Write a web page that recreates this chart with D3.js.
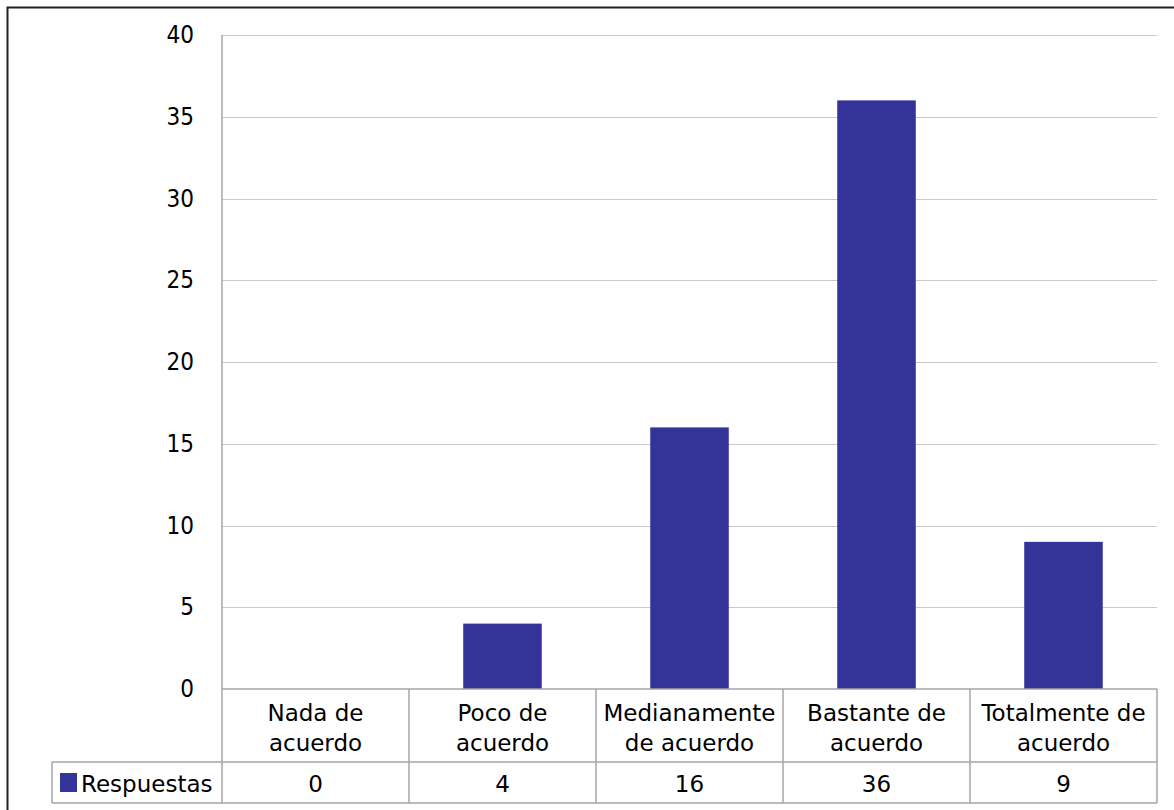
<!DOCTYPE html>
<html><head><meta charset="utf-8">
<script src="https://cdn.jsdelivr.net/npm/d3@7"></script>
<style>body{margin:0;background:#fff;}svg{display:block;}</style>
</head><body>
<svg id="c" width="1174" height="810"></svg>
<script>
const categories = [["Nada de","acuerdo"],["Poco de","acuerdo"],["Medianamente","de acuerdo"],["Bastante de","acuerdo"],["Totalmente de","acuerdo"]];
const values = [0,4,16,36,9];
const seriesName = "Respuestas";
const yTicks = [0,5,10,15,20,25,30,35,40];

const svg = d3.select("#c");
const font = "DejaVu Sans";
const fs = 23;
const L = 222, R = 1157, T = 35, B = 689;
const rowY = 762, bottomY = 803, legendX = 52;
const barColor = "#333399", lineColor = "#a6a6a6", gridColor = "#c8c8c8";

svg.append("rect").attr("x",7.5).attr("y",7.5).attr("width",1200).attr("height",900)
  .attr("fill","none").attr("stroke","#222").attr("stroke-width",2);

const x = d3.scaleBand().domain(d3.range(categories.length)).range([L,R]).paddingInner(0).paddingOuter(0);
const y = d3.scaleLinear().domain([0,40]).range([B,T]);

// gridlines
svg.append("g").selectAll("line").data(yTicks.filter(d=>d>0)).join("line")
  .attr("x1",L).attr("x2",R).attr("y1",d=>Math.round(y(d))+0.5).attr("y2",d=>Math.round(y(d))+0.5)
  .attr("stroke",gridColor).attr("stroke-width",1);

// y axis labels
const yAxis = d3.axisLeft(y).tickValues(yTicks).tickSize(0).tickPadding(0);
const ya = svg.append("g").attr("transform",`translate(${L-28},0)`).call(yAxis);
ya.select(".domain").remove();
ya.selectAll("text").attr("font-family","DejaVu Sans Condensed, DejaVu Sans").attr("font-size",24).attr("fill","#000");

// bars
const bw = x.bandwidth()*0.42;
svg.append("g").selectAll("rect").data(values).join("rect")
  .attr("x",(d,i)=>x(i)+x.bandwidth()/2-bw/2).attr("width",bw)
  .attr("y",d=>y(d)).attr("height",d=>y(0)-y(d)).attr("fill",barColor);

// table lines
const g = svg.append("g").attr("stroke",lineColor).attr("stroke-width",1.5).attr("fill","none");
g.append("line").attr("x1",L).attr("x2",L).attr("y1",T).attr("y2",bottomY);
g.append("line").attr("x1",L).attr("x2",R).attr("y1",B).attr("y2",B);
g.append("line").attr("x1",legendX).attr("x2",R).attr("y1",rowY).attr("y2",rowY);
g.append("line").attr("x1",legendX).attr("x2",R).attr("y1",bottomY).attr("y2",bottomY);
g.append("line").attr("x1",legendX).attr("x2",legendX).attr("y1",rowY).attr("y2",bottomY);
categories.forEach((c,i)=>{
  g.append("line").attr("x1",x(i)+x.bandwidth()).attr("x2",x(i)+x.bandwidth()).attr("y1",B).attr("y2",bottomY);
});

// category labels
const cl = svg.append("g").attr("font-family",font).attr("font-size",fs).attr("text-anchor","middle");
categories.forEach((c,i)=>{
  c.forEach((line,j)=>{
    cl.append("text").attr("x",x(i)+x.bandwidth()/2).attr("y",721+j*30).text(line);
  });
  cl.append("text").attr("x",x(i)+x.bandwidth()/2).attr("y",792).text(values[i]);
});

// legend
svg.append("rect").attr("x",60).attr("y",773).attr("width",17).attr("height",19).attr("fill",barColor);
svg.append("text").attr("x",81).attr("y",792).attr("font-family",font).attr("font-size",fs).text(seriesName);
</script>
</body></html>
